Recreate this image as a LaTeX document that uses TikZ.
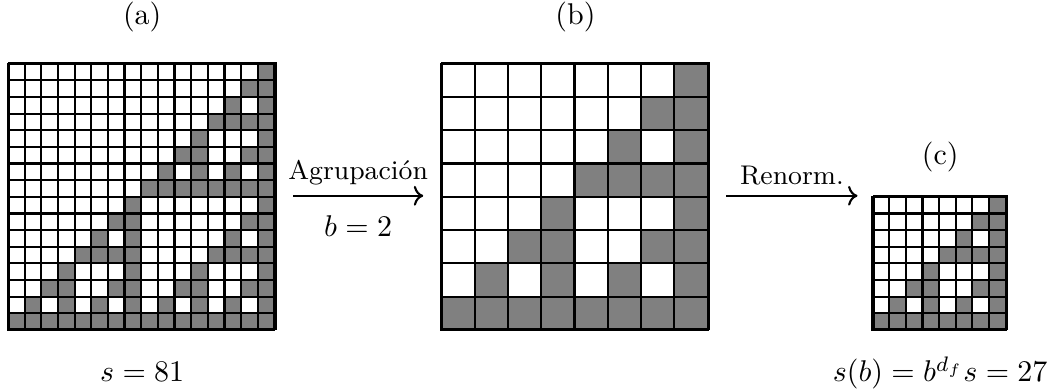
\documentclass[tikz,border=0pt]{standalone}
\usepackage{amsmath}
\usetikzlibrary{arrows.meta}
\usetikzlibrary{calc}
\usetikzlibrary{positioning}

% #1 name, #2 x, #3 y (lower left), #4 last index, #5 cell size
\newcommand{\sierpgrid}[5]{%
  \begin{scope}[shift={(#2,#3)}]
    \foreach \row in {0,...,#4}
      \foreach \col in {0,...,#4} {
        \pgfmathtruncatemacro\miss{mod(\row,2)*(1-mod(\col,2))
          + mod(floor(\row/2),2)*(1-mod(floor(\col/2),2))
          + mod(floor(\row/4),2)*(1-mod(floor(\col/4),2))
          + mod(floor(\row/8),2)*(1-mod(floor(\col/8),2))}
        \ifnum\miss=0
          \draw[gridline, cellfill] (\col*#5,\row*#5) rectangle +(#5,#5);
        \else
          \draw[gridline] (\col*#5,\row*#5) rectangle +(#5,#5);
        \fi
      }
  \end{scope}
  \node[frame, minimum size={(#4+1)*#5*5.55pt}] (#1) at (#2,#3) {};
}

\begin{document}
\begin{tikzpicture}[x=5.55pt, y=5.55pt, >=To,
      gridline/.style={line width=0.7pt},
      cellfill/.style={fill=gray},
      frame/.style={draw, line width=0.7pt, inner sep=0pt, anchor=south west},
      arrow/.style={->, line width=0.7pt}]
      \useasboundingbox (0,0) rectangle (63.42,23.48);
      % Grids
      \sierpgrid{ga}{0.48}{3.66}{15}{1}
      \sierpgrid{gb}{26.5}{3.66}{7}{2}
      \sierpgrid{gc}{52.4}{3.66}{7}{1}
      % Titles
      \node[above=6.4pt of ga] (ta) {(a)};
      \node[above=6.4pt of gb] (tb) {(b)};
      \node[above=4pt of gc] (tc) {(c)};
      % Arrows
      \draw[arrow] ([xshift=5.5pt]ga.east) -- ([xshift=-6pt]gb.west)
      node[midway, above] (agr) {\small Agrupación}
      node[midway, below=3pt] (bval) {$b=2$};
      \draw[arrow] ([xshift=5.5pt]gb.east) -- ($(gc.west |- gb.east)+(-5pt,0)$)
      node[midway, above] (ren) {\small Renorm.};
      % Masses
      \node[anchor=base] (sa) at ([yshift=-17.3pt]ga.south) {$s=81$};
      \node[anchor=base] (sc) at ([yshift=-17.3pt]gc.south) {$s(b)=b^{d_f}s=27$};
    \end{tikzpicture}
\end{document}
